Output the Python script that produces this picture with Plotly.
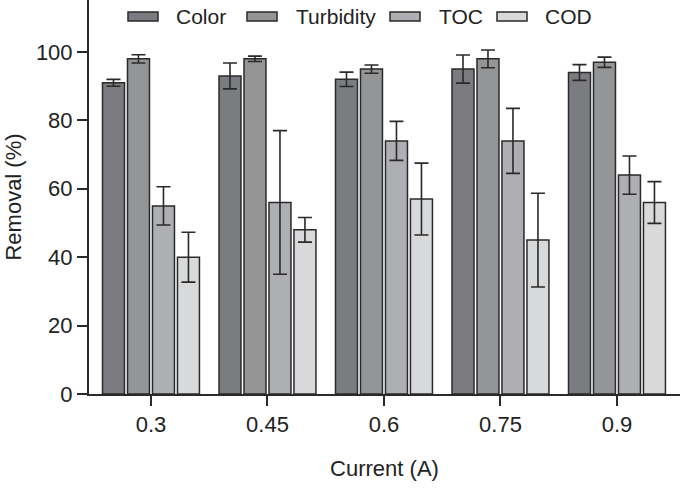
import plotly.graph_objects as go

categories = ["0.3", "0.45", "0.6", "0.75", "0.9"]
series_names = ["Color", "Turbidity", "TOC", "COD"]
color_vals = [91, 93, 92, 95, 94]
color_err = [1.0, 3.8, 2.1, 4.1, 2.3]
turb_vals = [98, 98, 95, 98, 97]
turb_err = [1.2, 0.8, 1.2, 2.6, 1.5]
toc_vals = [55, 56, 74, 74, 64]
toc_err = [5.6, 21, 5.7, 9.5, 5.6]
cod_vals = [40, 48, 57, 45, 56]
cod_err = [7.3, 3.6, 10.5, 13.7, 6.1]
y_ticks = [0, 20, 40, 60, 80, 100]

fills = ["#7b7c80", "#949597", "#aeafb2", "#d8d9db"]
dark = "#2a2a2a"
FONT = "Liberation Sans, Arial, Helvetica, sans-serif"

fig = go.Figure()
for name, vals, errs, fc in zip(series_names,
                                [color_vals, turb_vals, toc_vals, cod_vals],
                                [color_err, turb_err, toc_err, cod_err],
                                fills):
    fig.add_trace(go.Bar(
        x=categories, y=vals, name=name,
        marker=dict(color=fc, line=dict(color=dark, width=1.5)),
        error_y=dict(type="data", array=errs, visible=True,
                     color=dark, thickness=1.6, width=7),
        showlegend=False,
    ))

# manual legend (wide rectangular swatches like the reference)
W = 685.0
H = 488.0
pl, pr, pt, pb = 89, 5, 0, 94
pw = W - pl - pr
ph = H - pt - pb
legend_boxes = [(128, 174), (247, 294), (390, 437), (497, 543)]
for (bx, tx), name, fc in zip(legend_boxes, series_names, fills):
    x0 = (bx - pl) / pw
    x1 = (bx + 30 - pl) / pw
    y0 = 1 - (12 - pt) / ph
    y1 = 1 - (21 - pt) / ph
    fig.add_shape(type="rect", xref="paper", yref="paper",
                  x0=x0, x1=x1, y0=y1, y1=y0,
                  fillcolor=fc, line=dict(color=dark, width=1.5))
    fig.add_annotation(xref="paper", yref="paper",
                       x=(tx - pl) / pw, y=1 - (16.5 - pt) / ph,
                       xanchor="left", yanchor="middle", showarrow=False,
                       text=name, font=dict(family=FONT, size=21, color="#222"))

fig.update_layout(
    width=685, height=488,
    margin=dict(l=pl, r=pr, t=pt, b=pb, autoexpand=False),
    paper_bgcolor="white", plot_bgcolor="white",
    barmode="group", bargap=0.142, bargroupgap=0.12,
    font=dict(family=FONT, size=22, color="#222"),
    xaxis=dict(
        type="category", range=[-0.532, 4.541], automargin=False,
        showline=True, linecolor=dark, linewidth=2,
        ticks="outside", ticklen=10, tickwidth=1.5, tickcolor=dark,
        tickfont=dict(size=22),
        title=dict(text="Current (A)", font=dict(size=22), standoff=24),
        showgrid=False, zeroline=False,
    ),
    yaxis=dict(
        range=[0, 115.2], tickvals=y_ticks, automargin=False,
        showline=True, linecolor=dark, linewidth=2,
        ticks="outside", ticklen=10, tickwidth=1.5, tickcolor=dark,
        tickfont=dict(size=22),
        title=dict(text="Removal (%)", font=dict(size=22), standoff=8),
        showgrid=False, zeroline=False,
    ),
)

fig.write_html("out.html", config={"displayModeBar": False},
               post_script="document.body.style.margin='0';")
